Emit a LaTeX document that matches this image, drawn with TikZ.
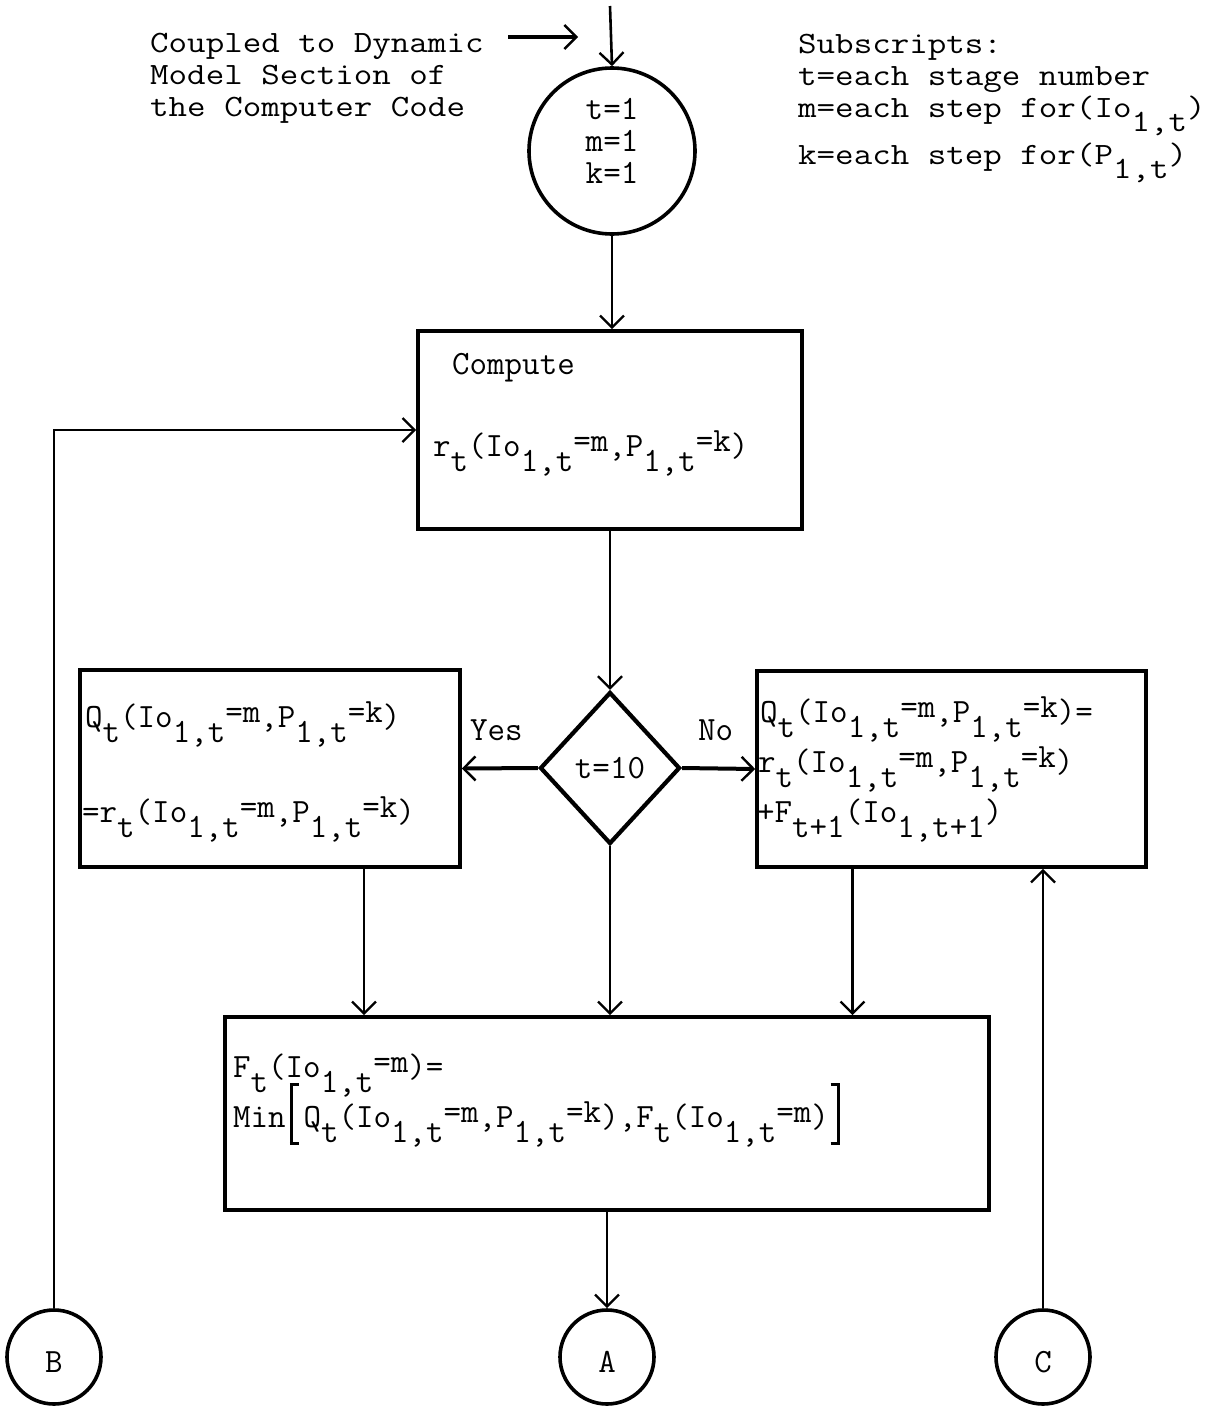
\documentclass[tikz,border=0pt]{standalone}
\usepackage{fontspec}
\usepackage{graphicx}
\usetikzlibrary{arrows.meta,shapes.geometric}
% typewriter half-line shifts
\newcommand\dn[1]{\raisebox{-0.45em}{#1}}
\newcommand\up[1]{\raisebox{0.12em}{#1}}
\newcommand\ioarg{(Io\dn{1,t}\up{=m},P\dn{1,t}\up{=k})}
% wide typewriter line for the side notes
\newcommand\wl[1]{\scalebox{1.16}[1]{#1}}
% tall square brackets, one character cell wide
\newcommand\tlbr{\makebox[0.525em][l]{\hspace{0.12em}\rlap{\rule[-0.52em]{0.08em}{1.8em}}\rlap{\rule[-0.52em]{0.28em}{0.08em}}\rule[1.2em]{0.28em}{0.08em}}}
\newcommand\trbr{\makebox[0.525em][l]{\hspace{0.05em}\rlap{\rule[-0.52em]{0.28em}{0.08em}}\rlap{\rule[1.2em]{0.28em}{0.08em}}\hspace{0.2em}\rule[-0.52em]{0.08em}{1.8em}}}
\newcommand\twfont{\fontsize{34}{36}\selectfont\ttfamily\addfontfeatures{FakeBold=3.5}}
\newcommand\notefont{\fontsize{31}{32}\selectfont\ttfamily\addfontfeatures{FakeBold=3.5}\lineskiplimit=-60pt\relax}
\begin{document}
\begin{tikzpicture}[x=1pt,y=-1pt,
  arr/.style={line width=2.6pt,-{Straight Barb[length=12pt,width=24pt,line width=2.4pt]}},
  heavy/.style={line width=4pt},
  box/.style={draw,line width=3.6pt,rectangle,inner sep=0pt},
  circ/.style={draw,line width=3.6pt,circle,inner sep=0pt},
  dia/.style={draw,line width=4.2pt,diamond,inner sep=0pt},
  txt/.style={inner sep=0pt,anchor=base west,font=\twfont},
  ctxt/.style={txt,anchor=base},
  note/.style={inner sep=0pt,anchor=north west,align=left,font=\notefont}]
\useasboundingbox (0,0) rectangle (1228,1406);

% side notes
\node[note] (cpl) at (150,33) {\wl{Coupled to Dynamic}\\\wl{Model Section of}\\\wl{the Computer Code}};
\coordinate (cpa) at (508,37);
\coordinate (cpb) at (578,37);
\node[note] (sub) at (798,34) {\wl{Subscripts:}\\\wl{t=each stage number}\\\wl{m=each step for(Io\dn{1,t})}\\[15pt]\wl{k=each step for(P\dn{1,t})}};

% start
\coordinate (in) at (610,6);
\node[circ,minimum size=166pt] (start) at (612,151) {};
\node[ctxt] (s1) at (612,119) {t=1};
\node[ctxt] (s2) at (612,151) {m=1};
\node[ctxt] (s3) at (612,183) {k=1};

% compute block
\node[box,minimum width=384pt,minimum height=198pt] (comp) at (610,430) {};
\node[txt] (c1) at (452,374) {Compute};
\node[txt] (c2) at (433,456) {r\dn{t}\ioarg};

% decision
\node[dia,minimum width=140pt,minimum height=152pt] (test) at (610,768) {};
\node[ctxt] (tt) at (610,778) {t=10};
\node[txt] (yes) at (470,740) {Yes};
\node[txt] (no) at (698,740) {No};

% branch blocks
\node[box,minimum width=380pt,minimum height=197pt] (lbox) at (270,768.5) {};
\node[txt] (l1) at (85,727) {Q\dn{t}\ioarg};
\node[txt] (l2) at (82,822) {=r\dn{t}\ioarg};

\node[box,minimum width=389pt,minimum height=196pt] (rbox) at (951.5,769) {};
\node[txt] (r1) at (760,722) {Q\dn{t}\ioarg=};
\node[txt] (r2) at (758,772) {r\dn{t}\ioarg};
\node[txt] (r3) at (757,822) {+F\dn{t+1}(Io\dn{1,t+1})};

% minimum block
\node[box,minimum width=764pt,minimum height=193pt] (fbox) at (607,1113.5) {};
\node[txt] (f1) at (233,1077) {F\dn{t}(Io\dn{1,t}\up{=m})=};
\node[txt] (f2) at (233,1127) {Min\tlbr Q\dn{t}\ioarg,F\dn{t}(Io\dn{1,t}\up{=m})\trbr};

% off-page connectors
\node[circ,minimum size=94pt] (B) at (54,1357) {};
\node[circ,minimum size=94pt] (A) at (607,1357) {};
\node[circ,minimum size=94pt] (C) at (1043,1357) {};
\node[ctxt] (Bt) at (54,1372) {B};
\node[ctxt] (At) at (607,1372) {A};
\node[ctxt] (Ct) at (1043,1372) {C};

% flow lines
\draw[arr,heavy] (cpa) -- (cpb);
\draw[arr] (in) -- (start.north);
\draw[arr] (start.south) -- (start.south |- comp.north);
\draw[arr] (comp.south) -- (comp.south |- test.north);
\draw[arr,heavy] (test.west) -- (lbox.east);
\draw[arr,heavy] (test.east) -- (rbox.west);
\draw[arr] (test.south) -- (test.south |- fbox.north);
\draw[arr] ([xshift=94pt]lbox.south) -- ([xshift=94pt]lbox.south |- fbox.north);
\draw[arr] ([xshift=-99pt]rbox.south) -- ([xshift=-99pt]rbox.south |- fbox.north);
\draw[arr] (fbox.south) -- (A.north);
\draw[arr] (B.north) |- (comp.west);
\draw[arr] (C.north) -- (C.north |- rbox.south);
\end{tikzpicture}
\end{document}
